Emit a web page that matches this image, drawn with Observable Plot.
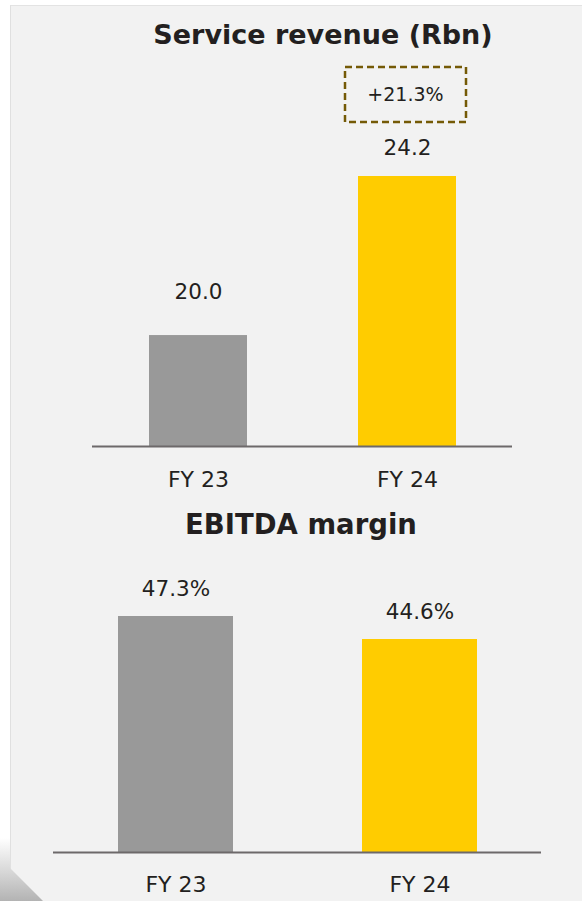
<!DOCTYPE html>
<html>
<head>
<meta charset="utf-8">
<script src="https://cdn.jsdelivr.net/npm/d3@7"></script>
<script src="https://cdn.jsdelivr.net/npm/@observablehq/plot@0.6"></script>
<style>
  html, body { margin: 0; padding: 0; background: #ffffff; width: 582px; height: 901px; overflow: hidden; }
  body { position: relative; font-family: "DejaVu Sans", sans-serif; color: #231f20; }
  #panel { position: absolute; left: 10px; top: 5px; width: 572px; height: 896px; background: #f2f2f2;
           border-left: 1.5px solid #e0e0e0; border-top: 1.5px solid #e3e3e3; box-sizing: border-box; }
  #corner { position: absolute; left: 0; top: 838px; width: 46px; height: 63px;
            background: linear-gradient(to bottom, #ffffff 0%, #d6d6d6 55%, #b3b3b3 100%);
            clip-path: polygon(0 0, 10px 0, 10px 30px, 43px 63px, 0 63px); }
  .title { position: absolute; width: 400px; text-align: center; font-weight: 700; white-space: nowrap; line-height: 1; }
  .chart { position: absolute; left: 0; }
  .chart svg { background: transparent !important; overflow: visible; }
</style>
</head>
<body>
<div id="panel"></div>
<div id="corner"></div>
<div class="title" id="title1" style="top:21px;left:123px;font-size:27px;">Service revenue (Rbn)</div>
<div class="chart" id="c1" style="top:0px;"></div>
<div class="title" id="title2" style="top:511px;left:101px;font-size:27.5px;">EBITDA margin</div>
<div class="chart" id="c2" style="top:500px;"></div>
<script>
// ---- data ----
const years = ["FY 23", "FY 24"];
const serviceRevenue = [20.0, 24.2];
const serviceRevenueLabels = ["20.0", "24.2"];
const serviceRevenueGrowth = "+21.3%";
const ebitdaMargin = [47.3, 44.6];
const ebitdaLabels = ["47.3%", "44.6%"];
const barColors = ["#999999", "#ffcc00"];
const revenueAxisMin = 17.07;   // truncated baseline value of the top chart
const marginAxisMin = 19.6;     // truncated baseline value of the bottom chart

const revData = years.map((y, i) => ({year: y, value: serviceRevenue[i], label: serviceRevenueLabels[i], color: barColors[i]}));
const ebData = years.map((y, i) => ({year: y, value: ebitdaMargin[i], label: ebitdaLabels[i], color: barColors[i]}));

const textColor = "#231f20";
const font = "DejaVu Sans";

// ---- top chart ----
const chart1 = Plot.plot({
  width: 582,
  height: 500,
  marginLeft: 92,
  marginRight: 70,
  marginTop: 0,
  marginBottom: 54,
  style: {fontFamily: font, background: "transparent", color: textColor},
  x: {domain: years, paddingInner: 0.532, paddingOuter: 0.267, label: null},
  y: {domain: [revenueAxisMin, serviceRevenue[1]], range: [446, 176], axis: null},
  marks: [
    Plot.barY(revData, {x: "year", y1: revenueAxisMin, y2: "value", fill: "color"}),
    Plot.ruleY([revenueAxisMin], {stroke: "#6d696a", strokeWidth: 2}),
    Plot.text(revData.filter(d => d.year === years[0]), {x: "year", y: "value", text: "label", dy: -43, fontSize: 21.5, fill: textColor}),
    Plot.text(revData.filter(d => d.year === years[1]), {x: "year", y: "value", text: "label", dy: -28, fontSize: 21.5, fill: textColor}),
    Plot.barY([revData[1]], {x: "year", y1: "value", y2: "value", fill: "none", stroke: "#745a06", strokeWidth: 2.5,
      strokeDasharray: "7,4", insetTop: -109, insetBottom: 54, insetLeft: -13, insetRight: -10}),
    Plot.text([revData[1]], {x: "year", y: "value", text: () => serviceRevenueGrowth, dy: -82, dx: -2, fontSize: 19, fill: textColor}),
    Plot.axisX({tickSize: 0, tickPadding: 25, fontSize: 22, fill: textColor, label: null})
  ]
});
document.getElementById("c1").appendChild(chart1);

// ---- bottom chart ----
const chart2 = Plot.plot({
  width: 582,
  height: 401,
  marginLeft: 53,
  marginRight: 41,
  marginTop: 0,
  marginBottom: 49,
  style: {fontFamily: font, background: "transparent", color: textColor},
  x: {domain: years, paddingInner: 0.5306, paddingOuter: 0.2653, label: null},
  y: {domain: [marginAxisMin, ebitdaMargin[0]], range: [352, 116], axis: null},
  marks: [
    Plot.barY(ebData, {x: "year", y1: marginAxisMin, y2: "value", fill: "color"}),
    Plot.ruleY([marginAxisMin], {stroke: "#6d696a", strokeWidth: 2}),
    Plot.text(ebData, {x: "year", y: "value", text: "label", dy: -27, fontSize: 21.5, fill: textColor}),
    Plot.axisX({tickSize: 0, tickPadding: 24, fontSize: 22, fill: textColor, label: null})
  ]
});
document.getElementById("c2").appendChild(chart2);
</script>
</body>
</html>
